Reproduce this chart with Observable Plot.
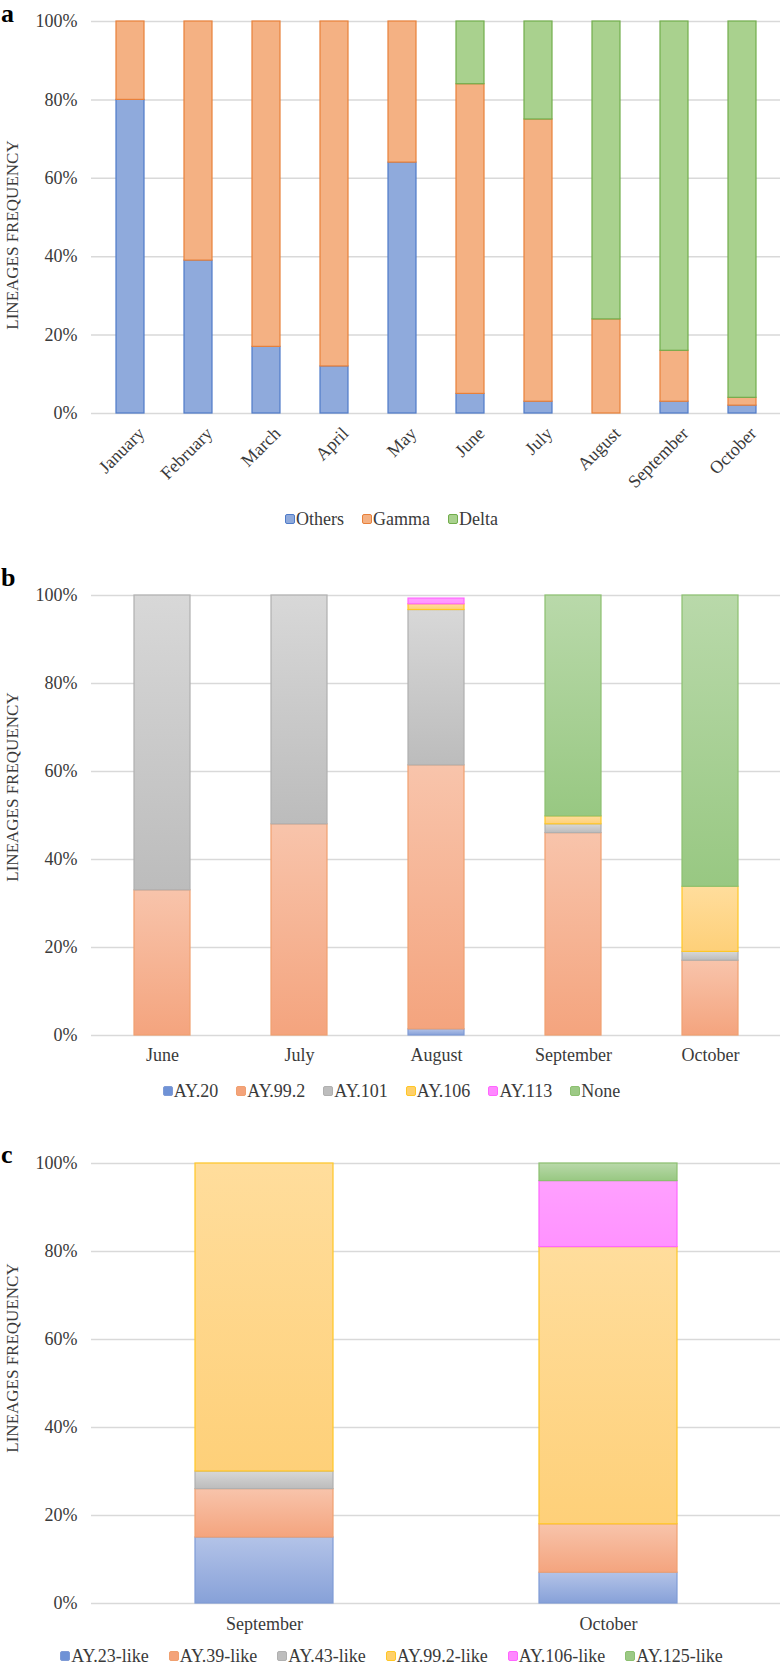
<!DOCTYPE html>
<html><head><meta charset="utf-8">
<script src="https://cdn.jsdelivr.net/npm/d3@7"></script>
<script src="https://cdn.jsdelivr.net/npm/@observablehq/plot@0.6"></script>
<style>
body{margin:0;background:#fff;font-family:'Liberation Serif',serif;color:#3a3a3a}
#root{position:relative;width:783px;height:1666px;overflow:hidden}
#root div, #root span{font-family:'Liberation Serif',serif !important}
.letter{position:absolute;font-weight:bold;font-size:26px;color:#000;line-height:1}
.ytitle{position:absolute;font-size:17px;transform:translate(-50%,-50%) rotate(-90deg);white-space:nowrap;line-height:1}
.legend{position:absolute;left:0;width:783px;display:flex;justify-content:center;gap:18px;font-size:18px;line-height:1;transform:translateY(-50%)}
.item{display:flex;align-items:center}
.sw{width:8px;height:8px;border:1px solid;border-radius:2px;margin-right:1px}
svg text{font-family:'Liberation Serif',serif}
</style></head>
<body><div id="root"></div>
<script>
// ---- Panel a data ----
const monthsA = ["January","February","March","April","May","June","July","August","September","October"];
const seriesA = ["Others","Gamma","Delta"];
const othersA = [80,39,17,12,64,5,3,0,3,2];
const gammaA  = [20,61,83,88,36,79,72,24,13,2];
const deltaA  = [0,0,0,0,0,16,25,76,84,96];
const fillA   = ["#8faadc","#f4b183","#a9d18e"];
const strokeA = ["#4f7bc8","#e8803a","#72ad4c"];

// ---- Panel b data ----
const monthsB = ["June","July","August","September","October"];
const seriesB = ["AY.20","AY.99.2","AY.101","AY.106","AY.113","None"];
const ay20B   = [0,0,1.4,0,0];
const ay992B  = [33,48,60,46,17];
const ay101B  = [67,52,35.3,2,2];
const ay106B  = [0,0,1.3,1.8,14.8];
const ay113B  = [0,0,1.3,0,0];
const noneB   = [0,0,0,50.2,66.2];

// ---- Panel c data ----
const monthsC = ["September","October"];
const seriesC = ["AY.23-like","AY.39-like","AY.43-like","AY.99.2-like","AY.106-like","AY.125-like"];
const ay23C   = [15,7];
const ay39C   = [11,11];
const ay43C   = [4,0];
const ay992C  = [70,63];
const ay106C  = [0,15];
const ay125C  = [0,4];

// gradient palettes shared by b and c (top, bottom, stroke, legend swatch)
const gradPal = [
  ["#b3c3e8","#87a1d8","#7f9bd6","#6f92d6"],
  ["#f8c4ab","#f4a47e","#f0a070","#f4a37a"],
  ["#d8d8d8","#bcbcbc","#b0b0b0","#bdbdbd"],
  ["#ffdd9c","#fed079","#ffc726","#ffd06a"],
  ["#ffa0ff","#ff92ff","#ff66ff","#ff88ff"],
  ["#b9d9aa","#98c882","#8cc070","#9cc985"]
];

const yTicks = [0,20,40,60,80,100];
const root = document.getElementById("root");
const FONT = "Liberation Serif";

function rowsFrom(months, series, values) {
  const rows = [];
  months.forEach((m, i) => {
    series.forEach((s, j) => {
      const v = values[j][i];
      if (v > 0) rows.push({month: m, series: s, idx: j, value: v});
    });
  });
  return rows;
}

function panel(o) {
  const rows = rowsFrom(o.months, o.series, o.values);
  const svg = Plot.plot({
    width: 783,
    height: o.height,
    marginTop: o.marginTop,
    marginBottom: o.marginBottom,
    marginLeft: 91,
    marginRight: 3,
    style: {fontFamily: FONT, fontSize: "18px", color: "#3a3a3a", background: "transparent", overflow: "visible"},
    x: {domain: o.months, paddingInner: o.pad, paddingOuter: o.pad / 2},
    y: {domain: [0, 100]},
    marks: [
      Plot.gridY(yTicks, {stroke: "#d9d9d9", strokeOpacity: 1, strokeWidth: 1.5}),
      Plot.barY(rows, {
        x: "month", y: "value", z: "series",
        fill: d => o.fill(d.idx),
        stroke: d => o.stroke(d.idx),
        strokeWidth: 1.2
      }),
      Plot.axisY({ticks: yTicks, tickFormat: d => d + "%", tickSize: 0, tickPadding: 14, label: null}),
      Plot.axisX({tickSize: 0, tickPadding: o.tickPadding, tickRotate: o.rotate || 0, dx: o.dx || 0, label: null})
    ]
  });
  if (o.gradients) {
    const defs = d3.select(svg).insert("defs", ":first-child");
    o.gradients.forEach((g, j) => {
      const lg = defs.append("linearGradient").attr("id", o.id + "g" + j)
        .attr("x1", 0).attr("y1", 0).attr("x2", 0).attr("y2", 1);
      lg.append("stop").attr("offset", "0%").attr("stop-color", g[0]);
      lg.append("stop").attr("offset", "100%").attr("stop-color", g[1]);
    });
  }
  svg.style.position = "absolute";
  svg.style.left = "0px";
  svg.style.top = o.top + "px";
  root.appendChild(svg);

  const L = document.createElement("div");
  L.className = "letter"; L.textContent = o.letter;
  L.style.left = "1px"; L.style.top = o.letterTop + "px";
  root.appendChild(L);
  const T = document.createElement("div");
  T.className = "ytitle"; T.textContent = "LINEAGES FREQUENCY";
  T.style.left = "12px"; T.style.top = o.titleY + "px";
  root.appendChild(T);
  const lg = document.createElement("div");
  lg.className = "legend"; lg.style.top = o.legendY + "px";
  lg.style.gap = (o.legendGap || 18) + "px";
  o.series.forEach((s, j) => {
    const it = document.createElement("div"); it.className = "item";
    const sw = document.createElement("div"); sw.className = "sw";
    sw.style.background = o.swatch(j); sw.style.borderColor = o.stroke(j);
    const tx = document.createElement("span"); tx.textContent = s;
    it.appendChild(sw); it.appendChild(tx); lg.appendChild(it);
  });
  root.appendChild(lg);
}

panel({
  id: "pa", letter: "a", letterTop: 1, titleY: 235, legendY: 519,
  months: monthsA, series: seriesA, values: [othersA, gammaA, deltaA],
  fill: j => fillA[j], stroke: j => strokeA[j], swatch: j => fillA[j],
  top: 0, height: 500, marginTop: 21, marginBottom: 87, pad: 0.59,
  rotate: -45, tickPadding: 17, dx: 11
});

panel({
  id: "pb", letter: "b", letterTop: 565, titleY: 787, legendY: 1091,
  months: monthsB, series: seriesB, values: [ay20B, ay992B, ay101B, ay106B, ay113B, noneB],
  gradients: gradPal,
  fill: j => "url(#pbg" + j + ")", stroke: j => gradPal[j][2], swatch: j => gradPal[j][3],
  top: 540, height: 535, marginTop: 55, marginBottom: 40, pad: 0.594,
  tickPadding: 13
});

panel({
  id: "pc", letter: "c", letterTop: 1142, titleY: 1358, legendY: 1656, legendGap: 20,
  months: monthsC, series: seriesC, values: [ay23C, ay39C, ay43C, ay992C, ay106C, ay125C],
  gradients: gradPal,
  fill: j => "url(#pcg" + j + ")", stroke: j => gradPal[j][2], swatch: j => gradPal[j][3],
  top: 1105, height: 538, marginTop: 58, marginBottom: 40, pad: 0.6,
  tickPadding: 14
});
</script>
</body></html>
